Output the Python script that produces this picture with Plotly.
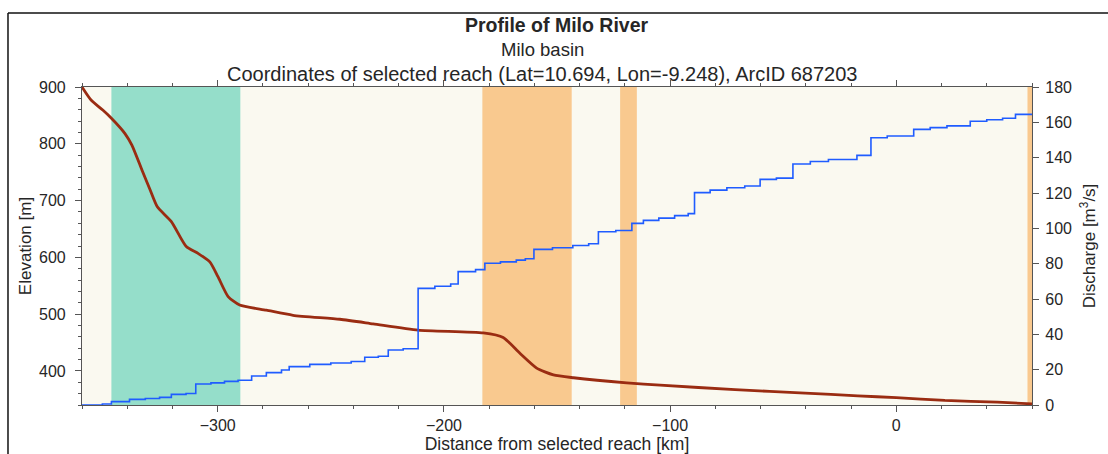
import plotly.graph_objects as go

# ---------------- data ----------------
elev_km = [-360, -356, -350.7, -347, -341, -338, -333.5, -329.9, -326.7, -320.5, -313.9,
           -308.7, -303.5, -299.9, -295.4, -290.3, -278.5, -266.7, -246, -231.3, -211.4,
           -182.6, -173.8, -166.4, -159, -151.6, -142.7, -119.2, -104.4, -71.3, -40.3,
           -17, 0, 21.5, 44.7, 60]
elev_m = [900, 877, 859, 845, 818, 798, 754, 719, 689, 663, 619,
          607, 592, 566, 531, 516, 507, 498, 491, 483, 472,
          467, 459, 431, 405, 393, 388, 379, 375, 367, 361,
          356, 353, 348, 345, 342]

q_km = [-360, -351, -347, -339, -332, -325.7, -320.5, -314, -309.7, -303, -297, -291,
        -285, -278.5, -271.8, -268.4, -259.3, -250, -241, -235, -229, -224.6, -218,
        -211.4, -204, -197, -193.7, -186, -181.9, -175, -168, -164, -160.2, -152, -143,
        -136, -131.7, -124, -116.9, -111.8, -105, -98, -92, -89.2, -82.3, -74.9, -67,
        -60.2, -53, -45.7, -38, -30, -17.4, -11.2, -4, 7.7, 15, 22.4, 32.7, 40, 47,
        52.7, 60]
q_m3s = [0.0, 0.6, 1.9, 3.2, 3.7, 4.3, 6.0, 6.5, 11.9, 12.5, 13.4, 14.0,
         16.4, 18.3, 19.8, 21.7, 23.0, 23.8, 24.6, 27.0, 27.6, 31.1, 31.8,
         66.0, 67.2, 68.5, 75.5, 76.6, 80.2, 81.0, 82.0, 82.8, 88.1, 89.0, 90.3,
         91.3, 98.1, 98.8, 102.8, 104.5, 105.8, 107.2, 108.3, 120.2, 121.6, 123.0, 124.0,
         127.7, 128.4, 136.4, 137.8, 139.0, 141.3, 151.3, 152.3, 156.0, 157.0, 158.0, 160.6, 161.5, 162.3,
         164.5, 164.5]

# highlighted reaches (km ranges)
teal_bands = [(-347, -290)]
orange_bands = [(-183, -143.5), (-122.1, -114.7), (58, 60)]

x_range = [-360, 60]
elev_range = [340, 900]
q_range = [0, 180]

FONT = "Liberation Sans, Arial, sans-serif"
AX = "#555555"
TXT = "#262626"

fig = go.Figure()

fig.add_trace(go.Scatter(x=q_km, y=q_m3s, mode="lines", line=dict(color="#1f5cff", width=1.6, shape="hv"),
                         yaxis="y2", showlegend=False, hoverinfo="skip"))
fig.add_trace(go.Scatter(x=elev_km, y=elev_m, mode="lines", line=dict(color="#9a2c12", width=2.8, shape="spline", smoothing=0.6),
                         yaxis="y", showlegend=False, hoverinfo="skip"))

shapes = []
for a, b in teal_bands:
    shapes.append(dict(type="rect", xref="x", yref="paper", x0=a, x1=b, y0=0, y1=1,
                       fillcolor="#95deca", line=dict(width=0), layer="below"))
for a, b in orange_bands:
    shapes.append(dict(type="rect", xref="x", yref="paper", x0=a, x1=b, y0=0, y1=1,
                       fillcolor="#f9c98f", line=dict(width=0), layer="below"))
# outer frame (image border)
shapes.append(dict(type="line", xref="paper", yref="paper", x0=-0.0779, x1=1.1, y0=1.2327, y1=1.2327,
                   line=dict(color="#111", width=1.5)))
shapes.append(dict(type="line", xref="paper", yref="paper", x0=-0.0779, x1=-0.0779, y0=1.2327, y1=-0.2,
                   line=dict(color="#111", width=1.5)))

def py(p):
    return (405 - p) / 318.0

def px(p):
    return (p - 82) / 950.0

annotations = [
    dict(text="<b>Profile of Milo River</b>", xref="paper", yref="paper", x=px(557), y=py(25.5),
         xanchor="center", yanchor="middle", showarrow=False, font=dict(size=19.5, family=FONT, color=TXT)),
    dict(text="Milo basin", xref="paper", yref="paper", x=px(542), y=py(50),
         xanchor="center", yanchor="middle", showarrow=False, font=dict(size=18.5, family=FONT, color=TXT)),
    dict(text="Coordinates of selected reach (Lat=10.694, Lon=-9.248), ArcID 687203", xref="paper", yref="paper",
         x=px(542), y=py(74), xanchor="center", yanchor="middle", showarrow=False,
         font=dict(size=20, family=FONT, color=TXT)),
]

fig.update_layout(
    width=1108, height=454,
    margin=dict(l=82, r=76, t=87, b=49, autoexpand=False),
    paper_bgcolor="white",
    plot_bgcolor="#faf9f0",
    font=dict(family=FONT, size=16, color=TXT),
    shapes=shapes,
    annotations=annotations,
    xaxis=dict(range=x_range, tick0=0, dtick=100, ticks="outside", ticklen=6, tickwidth=1, tickcolor=AX,
               showline=True, linecolor=AX, linewidth=1.2, mirror="ticks", showgrid=False, zeroline=False,
               automargin=False, ticklabelstandoff=0,
               minor=dict(dtick=20, tick0=0, ticks="outside", ticklen=3, tickcolor=AX, showgrid=False),
               tickfont=dict(size=16, family=FONT, color=TXT),
               title=dict(text="Distance from selected reach [km]", font=dict(size=17.5, family=FONT, color=TXT), standoff=2)),
    yaxis=dict(range=elev_range, tick0=0, dtick=100, ticks="outside", ticklen=6, tickwidth=1, tickcolor=AX,
               showline=True, linecolor=AX, linewidth=1.2, showgrid=False, zeroline=False,
               automargin=False, ticklabelstandoff=6,
               minor=dict(dtick=20, tick0=0, ticks="outside", ticklen=3, tickcolor=AX, showgrid=False),
               tickfont=dict(size=16, family=FONT, color=TXT),
               title=dict(text="Elevation [m]", font=dict(size=17, family=FONT, color=TXT), standoff=3)),
    yaxis2=dict(range=q_range, tick0=0, dtick=20, ticks="outside", ticklen=6, tickwidth=1, tickcolor=AX,
                showline=True, linecolor=AX, linewidth=1.2, showgrid=False, zeroline=False,
                overlaying="y", side="right", anchor="x", automargin=False, ticklabelstandoff=3,
                tickfont=dict(size=16, family=FONT, color=TXT),
                title=dict(text="Discharge [m<sup>3</sup>/s]", font=dict(size=17, family=FONT, color=TXT), standoff=12)),
)

fig.write_html("out.html", config={"displayModeBar": False},
               post_script="document.body.style.margin='0';document.body.style.overflow='hidden';")
